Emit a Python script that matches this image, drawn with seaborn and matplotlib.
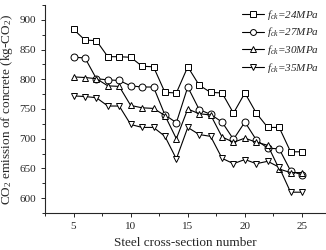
import pandas as pd
import seaborn as sns
import matplotlib
matplotlib.use("Agg")
import matplotlib.pyplot as plt
from matplotlib.ticker import MultipleLocator

sections = list(range(5, 26))
co2_24 = [884, 866, 865, 838, 838, 837, 822, 821, 778, 777, 821, 790, 778, 777, 743, 777, 743, 719, 719, 678, 678]
co2_27 = [837, 836, 801, 799, 798, 789, 787, 787, 740, 727, 787, 749, 741, 728, 699, 728, 698, 684, 683, 646, 639]
co2_30 = [804, 803, 801, 789, 788, 756, 752, 751, 739, 700, 750, 742, 740, 703, 694, 701, 694, 689, 649, 643, 643]
co2_35 = [772, 771, 769, 755, 755, 724, 719, 719, 704, 666, 719, 707, 704, 667, 658, 665, 658, 662, 652, 610, 610]

labels = ["24MPa", "27MPa", "30MPa", "35MPa"]
markers = ["s", "o", "^", "v"]
series = [co2_24, co2_27, co2_30, co2_35]

sns.set_style("ticks")
plt.rcParams["font.family"] = ["Liberation Serif", "DejaVu Serif"]
plt.rcParams["mathtext.fontset"] = "custom"
plt.rcParams["mathtext.it"] = "Liberation Serif:italic"
plt.rcParams["mathtext.rm"] = "Liberation Serif"

fig = plt.figure(figsize=(3.26, 2.5), dpi=100)
ax = fig.add_axes([0.138, 0.148, 0.862, 0.832])

for vals, lab, m in zip(series, labels, markers):
    df = pd.DataFrame({"x": sections, "y": vals})
    sns.lineplot(data=df, x="x", y="y", ax=ax, color="black", lw=0.8,
                 marker=m, markersize=5, markerfacecolor="white",
                 markeredgecolor="black", markeredgewidth=0.7,
                 label=r"$f_{ck}$=" + lab)

ax.set_xlim(2.5, 27.1)
ax.set_ylim(575, 925)
ax.xaxis.set_major_locator(MultipleLocator(5))
ax.xaxis.set_minor_locator(MultipleLocator(2.5))
ax.yaxis.set_major_locator(MultipleLocator(50))
ax.yaxis.set_minor_locator(MultipleLocator(25))
ax.tick_params(which="both", direction="out", labelsize=8, width=0.7)
ax.tick_params(which="major", length=3)
ax.tick_params(which="minor", length=2)
sns.despine(ax=ax)
for s in ["left", "bottom"]:
    ax.spines[s].set_linewidth(0.8)

ax.set_xlabel("Steel cross-section number", fontsize=9.5, labelpad=4)
ax.set_ylabel("CO$_2$ emission of concrete (kg-CO$_2$)", fontsize=9.5, labelpad=3)

leg = ax.legend(loc="upper right", frameon=False, fontsize=8, handlelength=2.0,
                handletextpad=0.3, labelspacing=0.35, borderaxespad=0.2,
                bbox_to_anchor=(1.0, 1.02), markerscale=0.85)
for t in leg.get_texts():
    t.set_fontstyle("italic")

fig.savefig("out.png", dpi=100)
